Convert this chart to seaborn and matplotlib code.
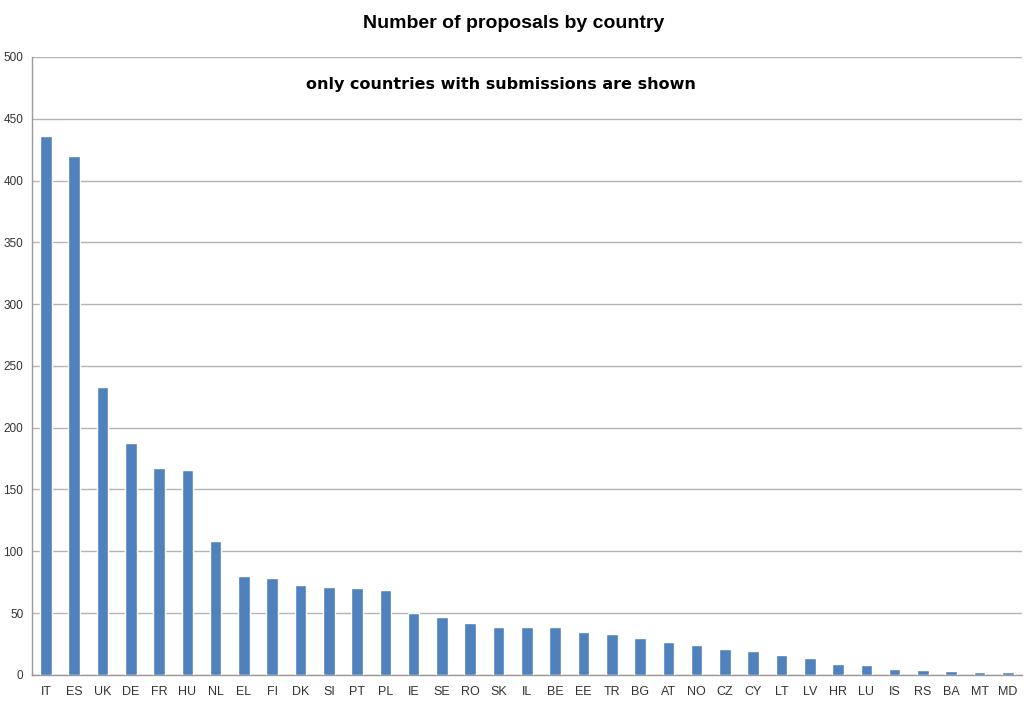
import numpy as np
import pandas as pd
import matplotlib
matplotlib.use("Agg")
import matplotlib.pyplot as plt
import seaborn as sns

countries = ["IT", "ES", "UK", "DE", "FR", "HU", "NL", "EL", "FI", "DK", "SI", "PT", "PL",
             "IE", "SE", "RO", "SK", "IL", "BE", "EE", "TR", "BG", "AT", "NO", "CZ", "CY",
             "LT", "LV", "HR", "LU", "IS", "RS", "BA", "MT", "MD"]
proposals = [436, 420, 233, 188, 167, 166, 108, 80, 78, 73, 71, 70, 69,
             50, 47, 42, 39, 39, 39, 35, 33, 30, 27, 24, 21, 19,
             16, 14, 9, 8, 5, 4, 3, 2, 2]
y_ticks = [0, 50, 100, 150, 200, 250, 300, 350, 400, 450, 500]

title = "Number of proposals by country"
subtitle = "only countries with submissions are shown"

sns.set_style("white")
plt.rcParams["font.family"] = ["Liberation Sans", "DejaVu Sans"]

df = pd.DataFrame({"country": countries, "proposals": proposals})

fig = plt.figure(figsize=(10.24, 7.03), dpi=100)
ax = fig.add_axes([0.031, 0.040, 0.967, 0.879])

sns.barplot(data=df, x="country", y="proposals", color="#4F81BD", saturation=1,
            width=0.41, ax=ax, zorder=3)

ax.set_ylim(0, 500)
ax.set_xlim(-0.5, len(countries) - 0.5)
ax.set_yticks(y_ticks)
ax.set_yticklabels([str(v) for v in y_ticks], fontsize=8.5, color="#333333")
ax.tick_params(axis="x", which="major", length=0, labelsize=9, labelcolor="#333333", pad=8)
ax.set_xticks(np.arange(-0.5, len(countries)), minor=True)
ax.tick_params(axis="x", which="minor", length=4, color="#999999", direction="out")
ax.tick_params(axis="y", length=3, color="#999999", direction="out", pad=3)

ax.yaxis.grid(True, color="#b3b3b3", linewidth=1, zorder=0)
ax.set_axisbelow(True)
for s in ["top", "right"]:
    ax.spines[s].set_visible(False)
for s in ["left", "bottom"]:
    ax.spines[s].set_color("#999999")
    ax.spines[s].set_linewidth(1)

ax.set_xlabel("")
ax.set_ylabel("")

fig.text(0.502, 0.966, title, ha="center", va="center", fontsize=14, fontweight="bold",
         color="black")
ax.text(0.474, 0.955, subtitle, transform=ax.transAxes, ha="center", va="center",
        fontsize=11.5, fontweight="bold", family=["DejaVu Sans"], color="black")

fig.savefig("out.png", dpi=100)
